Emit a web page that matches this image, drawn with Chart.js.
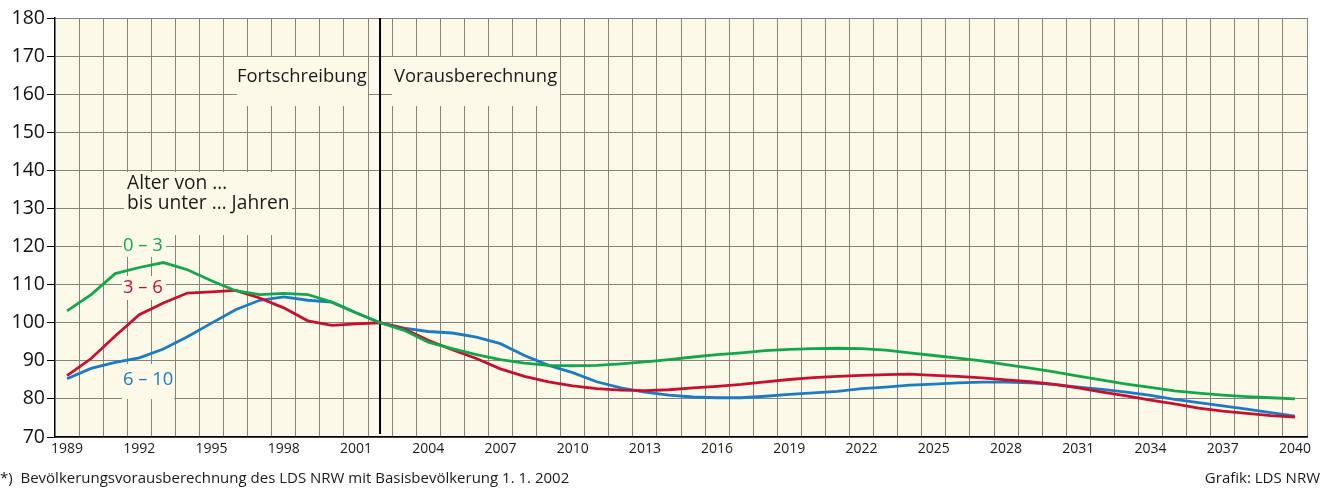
<!DOCTYPE html>
<html>
<head>
<meta charset="utf-8">
<script src="https://cdn.jsdelivr.net/npm/chart.js@4.4.1/dist/chart.umd.min.js"></script>
<style>
  html, body { margin: 0; padding: 0; background: #fff; }
  #wrap { width: 1323px; height: 488px; position: relative; }
</style>
</head>
<body>
<div id="wrap"><canvas id="chart" width="1323" height="488"></canvas></div>
<script>
// Jahre 1989 bis 2040
const years = [];
for (let y = 1989; y <= 2040; y++) years.push(String(y));

// Index 2002 = 100
const age0to3 = [103.1, 107.4, 112.9, 114.5, 115.8, 113.9, 111.0, 108.4, 107.4, 107.7, 107.4, 105.4, 102.6,
  100.0, 98.0, 94.9, 93.2, 91.6, 90.3, 89.4, 88.8, 88.7, 88.8, 89.2, 89.7, 90.3, 91.0, 91.6, 92.1, 92.7, 93.0, 93.2,
  93.3, 93.2, 92.8, 92.1, 91.4, 90.7, 90.0, 89.0, 88.1, 87.1, 86.0, 84.9, 83.9, 83.0, 82.1, 81.5, 81.0, 80.6, 80.3, 80.0];
const age3to6 = [86.1, 90.6, 96.5, 102.1, 105.2, 107.8, 108.1, 108.5, 106.5, 103.9, 100.5, 99.3, 99.7,
  100.0, 98.4, 95.4, 92.9, 90.6, 87.9, 85.9, 84.5, 83.4, 82.7, 82.3, 82.2, 82.4, 82.9, 83.3, 83.8, 84.5, 85.1, 85.6,
  85.9, 86.2, 86.4, 86.5, 86.2, 85.9, 85.5, 85.0, 84.5, 83.8, 82.9, 81.8, 80.8, 79.7, 78.7, 77.6, 76.8, 76.2, 75.6, 75.2];
const age6to10 = [85.3, 88.0, 89.6, 90.8, 93.1, 96.3, 99.9, 103.4, 105.9, 106.8, 105.9, 105.4, 102.6,
  100.0, 98.6, 97.7, 97.3, 96.2, 94.5, 91.4, 88.8, 86.9, 84.5, 82.9, 81.8, 81.0, 80.5, 80.3, 80.3, 80.7, 81.2, 81.6,
  82.0, 82.7, 83.1, 83.6, 83.9, 84.2, 84.4, 84.4, 84.2, 83.8, 83.1, 82.5, 81.8, 80.9, 79.9, 79.0, 78.2, 77.3, 76.4, 75.5];

const labelYears = ['1989', '1992', '1995', '1998', '2001', '2004', '2007', '2010', '2013', '2016', '2019',
  '2022', '2025', '2028', '2031', '2034', '2037', '2040'];

const GREEN = '#12a84a';
const RED = '#c8102e';
const BLUE = '#1b7bc4';
const CREAM = '#fdf9e8';
const FONT = '"Open Sans", "Noto Sans", sans-serif';

const decor = {
  id: 'decor',
  beforeDraw(chart) {
    const { ctx, chartArea: a } = chart;
    ctx.save();
    ctx.fillStyle = CREAM;
    ctx.fillRect(a.left, a.top, a.right - a.left, a.bottom - a.top);
    ctx.restore();
  },
  beforeDatasetsDraw(chart) {
    const { ctx, chartArea: a, scales } = chart;
    ctx.save();
    // Textfelder decken das Gitter ab
    ctx.fillStyle = CREAM;
    ctx.fillRect(237, 57, 131, 49);
    ctx.fillRect(392, 57, 168, 49);
    ctx.fillRect(124, 172, 168, 63);
    ctx.fillRect(122, 235, 44, 22);
    ctx.fillRect(122, 276, 44, 24);
    ctx.fillRect(122, 364, 52, 35);

    // Trennlinie 2002
    const x = scales.x.getPixelForValue(years.indexOf('2002'));
    ctx.strokeStyle = '#000';
    ctx.lineWidth = 2;
    ctx.beginPath();
    ctx.moveTo(x, a.top);
    ctx.lineTo(x, a.bottom - 3);
    ctx.stroke();

    ctx.textBaseline = 'alphabetic';
    ctx.fillStyle = '#1a1a1a';
    ctx.font = '18.4px ' + FONT;
    ctx.fillText('Fortschreibung', 237, 82);
    ctx.fillText('Vorausberechnung', 394, 82);
    ctx.font = '19.2px ' + FONT;
    ctx.fillText('Alter von …', 127, 189);
    ctx.fillText('bis unter … Jahren', 127, 209);
    ctx.font = '18.4px ' + FONT;
    ctx.fillStyle = GREEN;
    ctx.fillText('0 – 3', 123, 251);
    ctx.fillStyle = RED;
    ctx.fillText('3 – 6', 123, 293);
    ctx.fillStyle = BLUE;
    ctx.fillText('6 – 10', 123, 385);
    ctx.restore();
  },
  afterDraw(chart) {
    const { ctx } = chart;
    ctx.save();
    ctx.font = '15px ' + FONT;
    ctx.fillStyle = '#1a1a1a';
    ctx.textBaseline = 'alphabetic';
    ctx.textAlign = 'left';
    ctx.fillText('*)  Bevölkerungsvorausberechnung des LDS NRW mit Basisbevölkerung 1. 1. 2002', 0, 483);
    ctx.textAlign = 'right';
    ctx.fillText('Grafik: LDS NRW', 1320, 483);
    ctx.restore();
  }
};

const line = (data, color) => ({
  data: data,
  borderColor: color,
  borderWidth: 2.8,
  pointRadius: 0,
  tension: 0,
  fill: false
});

new Chart(document.getElementById('chart'), {
  type: 'line',
  data: {
    labels: years,
    datasets: [line(age0to3, GREEN), line(age3to6, RED), line(age6to10, BLUE)]
  },
  options: {
    responsive: false,
    animation: false,
    layout: { padding: { top: 18, right: 16, left: 0, bottom: 0 } },
    plugins: { legend: { display: false }, tooltip: { enabled: false } },
    scales: {
      x: {
        type: 'category',
        offset: true,
        afterFit(s) { s.height = 51; },
        grid: { offset: true, color: '#85837d', lineWidth: 1, drawTicks: false },
        border: { color: '#000', width: 1.5 },
        ticks: {
          autoSkip: false,
          maxRotation: 0,
          padding: 4,
          color: '#1a1a1a',
          font: { family: FONT, size: 14 },
          callback(v) { const l = this.getLabelForValue(v); return labelYears.includes(l) ? l : ''; }
        }
      },
      y: {
        min: 70,
        max: 180,
        afterFit(s) { s.width = 55; },
        grid: { color: '#85837d', lineWidth: 1, tickLength: 8, tickColor: '#000' },
        border: { color: '#000', width: 1.5 },
        ticks: {
          stepSize: 10,
          padding: 2,
          color: '#111',
          font: { family: FONT, size: 19.5 }
        }
      }
    }
  },
  plugins: [decor]
});
</script>
</body>
</html>
